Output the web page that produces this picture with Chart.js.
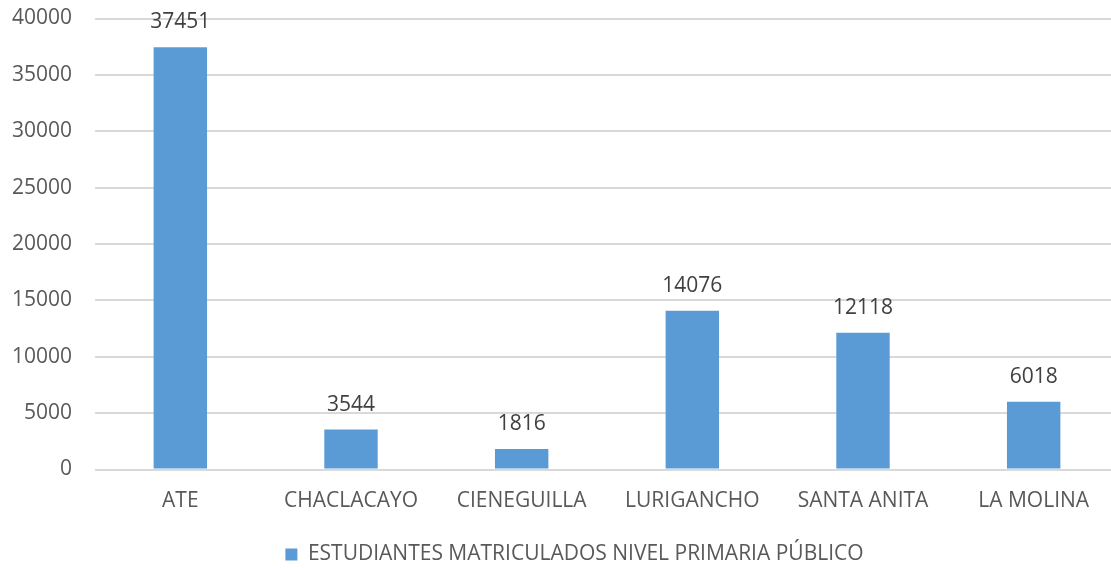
<!DOCTYPE html>
<html><head><meta charset="utf-8">
<script src="https://cdn.jsdelivr.net/npm/chart.js@4/dist/chart.umd.min.js"></script>
<style>html,body{margin:0;padding:0;overflow:hidden;background:#fff;width:1111px;height:568px}#wrap{width:1119px;height:568px}</style>
</head><body><div id="wrap"><canvas id="c" width="1119" height="568"></canvas></div>
<script>
const categories = ["ATE","CHACLACAYO","CIENEGUILLA","LURIGANCHO","SANTA ANITA","LA MOLINA"];
const seriesName = "ESTUDIANTES MATRICULADOS NIVEL PRIMARIA PÚBLICO";
const values = [37451,3544,1816,14076,12118,6018];
const yTicks = [0,5000,10000,15000,20000,25000,30000,35000,40000];

const FONT = "'Open Sans', sans-serif";
const TXT = "#595959";

const valueLabels = {
  id: 'valueLabels',
  afterDatasetsDraw(chart) {
    const ctx = chart.ctx;
    const meta = chart.getDatasetMeta(0);
    ctx.save();
    ctx.font = "21px " + FONT;
    ctx.fillStyle = "#404040";
    ctx.textAlign = "center";
    ctx.textBaseline = "middle";
    meta.data.forEach((bar, i) => {
      ctx.fillText(String(values[i]), bar.x, bar.y - 25);
    });
    ctx.restore();
  }
};

const legendShift = {
  id: 'legendShift',
  afterLayout(chart) {
    const lg = chart.legend;
    if (!lg) return;
    lg.left += 15; lg.right += 15;
    lg.top += 7; lg.bottom += 7;
  }
};

new Chart(document.getElementById('c'), {
  type: 'bar',
  data: {
    labels: categories,
    datasets: [{
      label: seriesName,
      data: values,
      backgroundColor: '#5b9bd5',
      borderWidth: 0,
      categoryPercentage: 1,
      barPercentage: 0.313
    }]
  },
  options: {
    responsive: false,
    animation: false,
    layout: { padding: { top: 18.5, left: 0, right: 0, bottom: 0 } },
    plugins: {
      legend: {
        position: 'bottom',
        labels: {
          font: { family: FONT, size: 21 },
          color: TXT,
          boxWidth: 12,
          boxHeight: 12,
          padding: 6
        }
      },
      tooltip: { enabled: false }
    },
    scales: {
      x: {
        grid: { display: false },
        border: { display: false },
        ticks: { font: { family: FONT, size: 21 }, color: TXT, padding: 11, maxRotation: 0 },
        afterFit(s) { s.height = 61.5; }
      },
      y: {
        min: 0, max: 40000,
        afterBuildTicks(s) { s.ticks = yTicks.map(v => ({ value: v })); },
        grid: { color: '#d9d9d9', lineWidth: 2, drawTicks: true, tickLength: 23, tickColor: 'rgba(0,0,0,0)' },
        border: { display: false },
        ticks: { font: { family: FONT, size: 21 }, color: TXT, padding: 0, callback: v => String(v) },
        afterFit(s) { s.width = 95; }
      }
    }
  },
  plugins: [valueLabels, legendShift]
});
</script>
</body></html>
